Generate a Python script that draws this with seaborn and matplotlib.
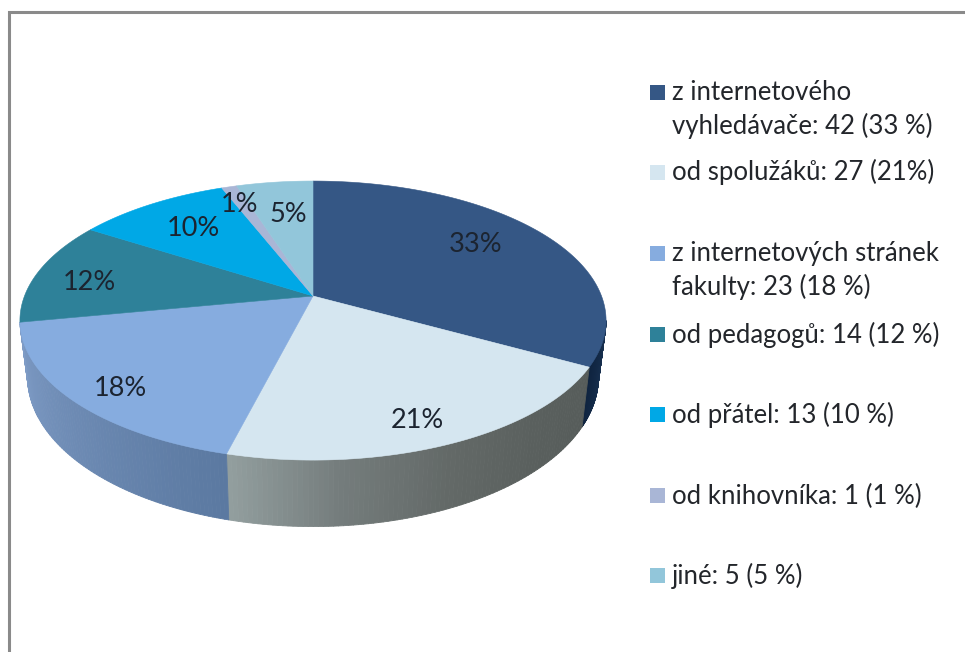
import numpy as np
import matplotlib
matplotlib.use("Agg")
import matplotlib.pyplot as plt
import seaborn as sns
from matplotlib.collections import PolyCollection
from matplotlib.patches import Polygon, Rectangle

# data
percents = [33, 21, 18, 12, 10, 1, 5]
pct_labels = ["33%", "21%", "18%", "12%", "10%", "1%", "5%"]
legend_lines = [
    ["z internetového", "vyhledávače: 42 (33 %)"],
    ["od spolužáků: 27 (21%)"],
    ["z internetových stránek", "fakulty: 23 (18 %)"],
    ["od pedagogů: 14 (12 %)"],
    ["od přátel: 13 (10 %)"],
    ["od knihovníka: 1 (1 %)"],
    ["jiné: 5 (5 %)"],
]

# colours
slice_colors = ["#355785", "#d5e6f0", "#86acdf", "#2e8199", "#00a8e6", "#a9b6d6", "#92c6da"]
wall_colors = {
    0: ["#0f2440", "#1b3556"],
    1: ["#929e9e", "#747c7c", "#636967", "#5a605e", "#565c5a"],
    2: ["#7f9cc6", "#5b79a1"],
}

# layout, everything in pixels of the 965x652 picture
CX = 313
TOP_Y, TOP_A, TOP_B = 296, 288.5, 135.2
BOT_Y, BOT_A, BOT_B = 350.6, 281, 145
PERSP = 0.176
label_xy = [(476, 244), (417, 420), (120, 388), (89, 282), (193, 228), (240, 205), (288, 215)]
legend_swatch_y = [85, 165, 246, 327, 407, 488, 568]
legend_base_y = [100, 180, 261, 343, 423, 504, 584]
LINE_STEP = 34


def rim(deg, y0, a, b, r=1.0):
    # clockwise angle from the top of the pie -> picture pixels, tilted disc
    t = np.radians(deg)
    x, y = r * np.sin(t), r * np.cos(t)
    w = 1 + PERSP * y
    return CX + a * x / w, y0 - b * y / w


sns.set_theme(style="white")
plt.rcParams["font.family"] = ["Lato", "DejaVu Sans"]

fig = plt.figure(figsize=(9.65, 6.52), dpi=100)
ax = fig.add_axes([0, 0, 1, 1])
ax.set_xlim(0, 965)
ax.set_ylim(652, 0)
ax.axis("off")

# frame, only top and left are inside the crop
ax.plot([9, 9, 965], [652, 12, 12], color="#8a8a8a", lw=2.2, solid_joinstyle="miter")

palette = sns.color_palette(slice_colors)
edges = np.cumsum([0] + percents) * 3.6

# side wall, only the front part of the disc is visible
vis_from = np.degrees(np.arccos(-PERSP))
vis_to = 360 - vis_from
for i, shades in wall_colors.items():
    start, end = max(edges[i], vis_from), min(edges[i + 1], vis_to)
    ts = np.linspace(start, end, 90)
    xt, yt = rim(ts, TOP_Y, TOP_A, TOP_B)
    xb, yb = rim(ts, BOT_Y, BOT_A, BOT_B)
    quads = [[(xt[j], yt[j]), (xt[j + 1], yt[j + 1]), (xb[j + 1], yb[j + 1]), (xb[j], yb[j])]
             for j in range(len(ts) - 1)]
    ramp = sns.blend_palette(shades, len(quads))
    order = np.argsort(np.argsort((xt[:-1] + xt[1:]) / 2))
    cols = [ramp[o] for o in order]
    ax.add_collection(PolyCollection(quads, facecolors=cols, edgecolors=cols, linewidths=0.6))

# top face
for i, col in enumerate(palette):
    ts = np.linspace(edges[i], edges[i + 1], 120)
    xs, ys = rim(ts, TOP_Y, TOP_A, TOP_B)
    pts = np.vstack([[CX, TOP_Y], np.column_stack([xs, ys])])
    ax.add_patch(Polygon(pts, closed=True, facecolor=col, edgecolor=col, lw=0.4))

for txt, (x, y) in zip(pct_labels, label_xy):
    ax.text(x, y, txt, ha="center", va="center", fontsize=19.5, color="#1c2430")

# legend
for i, lines in enumerate(legend_lines):
    ax.add_patch(Rectangle((650, legend_swatch_y[i]), 14.5, 15, facecolor=palette[i], edgecolor="none"))
    for k, line in enumerate(lines):
        ax.text(672, legend_base_y[i] + k * LINE_STEP, line, ha="left", va="baseline",
                fontsize=18.5, color="#23262b")

fig.savefig("out.png", dpi=100, facecolor="white")
